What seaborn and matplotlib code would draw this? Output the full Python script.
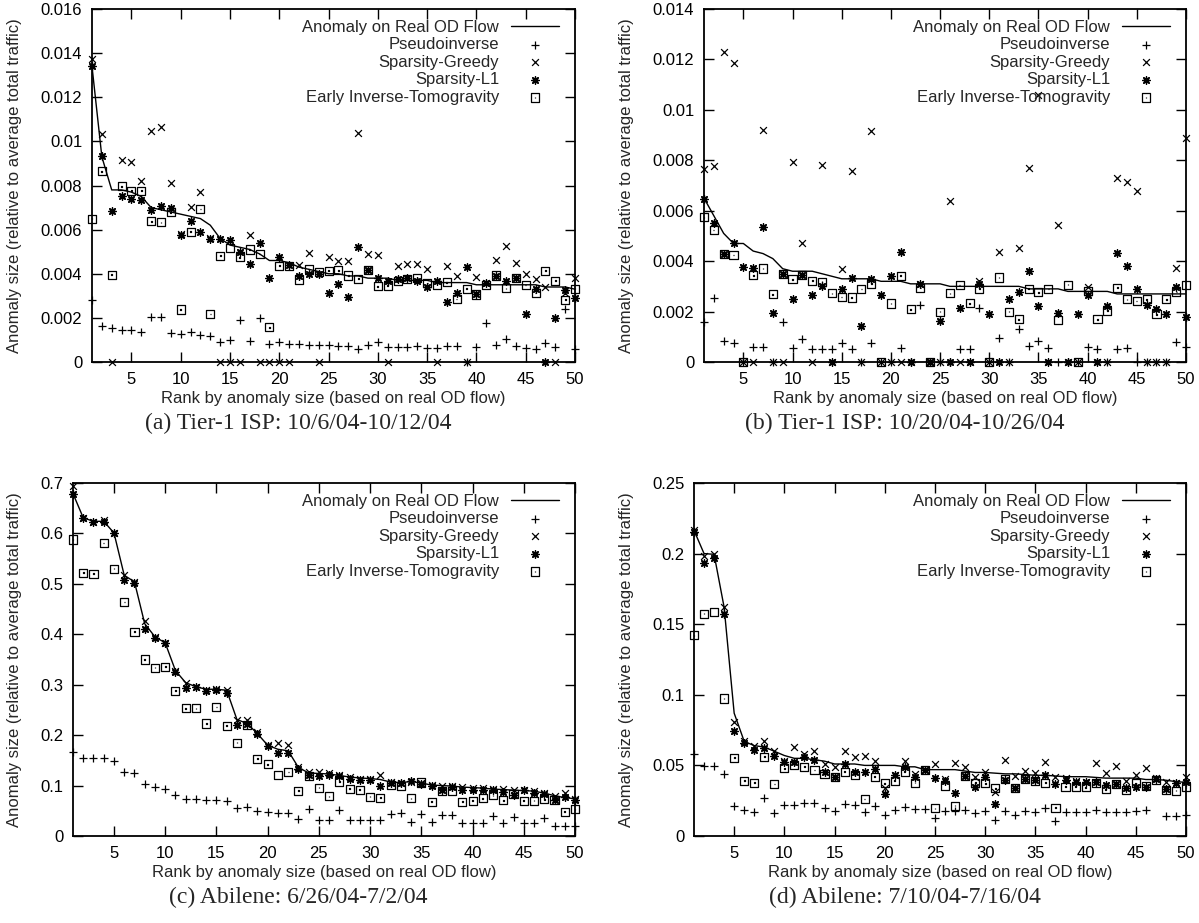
import numpy as np
import matplotlib
matplotlib.use("Agg")
import matplotlib.pyplot as plt
from matplotlib.path import Path
from matplotlib.ticker import FuncFormatter
import seaborn as sns

rank = np.arange(1, 51)

# ---- (a) Tier-1 ISP: 10/6/04-10/12/04 ----
a_real = [0.0134, 0.0093, 0.0078, 0.0078, 0.0077, 0.0075, 0.0070, 0.0069, 0.0068, 0.0067,
          0.0066, 0.0065, 0.0062, 0.0056, 0.0053, 0.0052, 0.0051, 0.0049, 0.0046, 0.0046,
          0.0045, 0.0043, 0.0042, 0.0041, 0.0040, 0.0040, 0.0039, 0.0039, 0.0038, 0.0038,
          0.0038, 0.0037, 0.0037, 0.0037, 0.0037, 0.0036, 0.0036, 0.0036, 0.0036, 0.0035,
          0.0035, 0.0035, 0.0035, 0.0035, 0.0035, 0.0035, 0.0034, 0.0034, 0.0034, 0.0033]
a_pseudo = [0.00283, 0.00162, 0.00155, 0.00147, 0.00144, 0.00135, 0.00203, 0.00205, 0.00132, 0.00129,
            0.00135, 0.00122, 0.00117, 0.00090, 0.00099, 0.00192, 0.00097, 0.00200, 0.00082, 0.00090,
            0.00082, 0.00082, 0.00075, 0.00075, 0.00075, 0.00072, 0.00072, 0.00061, 0.00079, 0.00090,
            0.00069, 0.00069, 0.00069, 0.00072, 0.00063, 0.00063, 0.00072, 0.00072, 0.0, 0.00067,
            0.00177, 0.00075, 0.00105, 0.00072, 0.00063, 0.00057, 0.00087, 0.00067, 0.00238, 0.00060]
a_greedy = [0.01373, 0.01032, 0.0, 0.00917, 0.00905, 0.00822, 0.01048, 0.01063, 0.00811, 0.0058,
            0.00701, 0.00769, 0.0056, 0.0, 0.0, 0.0, 0.00577, 0.0, 0.0, 0.0,
            0.0, 0.00438, 0.00494, 0.0, 0.00475, 0.0046, 0.0046, 0.0104, 0.00491, 0.00484,
            0.0, 0.00434, 0.00446, 0.00446, 0.00422, 0.0, 0.00434, 0.00392, 0.0, 0.00384,
            0.0036, 0.00461, 0.00525, 0.00449, 0.0040, 0.00374, 0.0034, 0.0, 0.00313, 0.00381]
a_l1 = [0.0134, 0.00935, 0.00683, 0.00751, 0.0074, 0.00733, 0.0069, 0.00709, 0.00698, 0.00577,
        0.00638, 0.0059, 0.00558, 0.00558, 0.00552, 0.0050, 0.00442, 0.0054, 0.00381, 0.00475,
        0.0044, 0.0039, 0.0040, 0.0040, 0.00313, 0.00355, 0.00295, 0.00522, 0.00416, 0.0038,
        0.00369, 0.00377, 0.00381, 0.00366, 0.0034, 0.00366, 0.00271, 0.00313, 0.0043, 0.00306,
        0.00358, 0.00392, 0.00369, 0.00381, 0.00218, 0.00332, 0.0, 0.0020, 0.00328, 0.00288]
a_tomo = [0.0065, 0.00864, 0.00395, 0.00796, 0.00777, 0.00777, 0.00638, 0.00633, 0.00679, 0.00238,
          0.00591, 0.00694, 0.00218, 0.00482, 0.00517, 0.00474, 0.0051, 0.0049, 0.00158, 0.00437,
          0.00434, 0.00374, 0.00422, 0.00407, 0.00414, 0.00416, 0.00392, 0.00377, 0.00416, 0.00343,
          0.00346, 0.00366, 0.00377, 0.00381, 0.00358, 0.00349, 0.00361, 0.00286, 0.00332, 0.00306,
          0.00351, 0.00392, 0.00334, 0.0038, 0.00349, 0.00313, 0.00414, 0.00369, 0.00283, 0.00332]

# ---- (b) Tier-1 ISP: 10/20/04-10/26/04 ----
b_real = [0.0065, 0.0058, 0.0051, 0.0047, 0.0047, 0.0044, 0.0043, 0.0041, 0.0037, 0.0036,
          0.0036, 0.0036, 0.0035, 0.0034, 0.0033, 0.0033, 0.0033, 0.0033, 0.0032, 0.0032,
          0.0032, 0.0031, 0.0031, 0.0031, 0.0031, 0.0030, 0.0030, 0.0030, 0.0030, 0.0030,
          0.0030, 0.0030, 0.0030, 0.0029, 0.0029, 0.0029, 0.0029, 0.0028, 0.0028, 0.0028,
          0.0028, 0.0028, 0.0027, 0.0027, 0.0027, 0.0027, 0.0027, 0.0027, 0.0027, 0.0027]
b_pseudo = [0.0016, 0.00253, 0.00082, 0.00077, 0.0, 0.0006, 0.00061, 0.0, 0.0016, 0.00054,
            0.0009, 0.0005, 0.0005, 0.0005, 0.00074, 0.0005, 0.0, 0.00074, 0.0, 0.0,
            0.00057, 0.0, 0.00225, 0.0, 0.0, 0.0, 0.0005, 0.00053, 0.00216, 0.0,
            0.00097, 0.0, 0.0013, 0.00064, 0.00083, 0.00057, 0.0, 0.0, 0.0, 0.0006,
            0.00053, 0.0, 0.0005, 0.00057, 0.0, 0.0, 0.0, 0.0, 0.0008, 0.0006]
b_greedy = [0.00766, 0.00779, 0.01229, 0.01187, 0.0, 0.0, 0.0092, 0.0, 0.0, 0.00792,
            0.00472, 0.0, 0.00781, 0.0, 0.00368, 0.00756, 0.0, 0.00915, 0.0, 0.0,
            0.0, 0.0, 0.0031, 0.0, 0.0, 0.00637, 0.0, 0.0, 0.0032, 0.0,
            0.00437, 0.0, 0.00454, 0.00768, 0.0106, 0.0, 0.00544, 0.0, 0.0, 0.00298,
            0.0, 0.0, 0.0073, 0.00713, 0.00677, 0.0, 0.0, 0.0, 0.00371, 0.00887]
b_l1 = [0.00646, 0.00551, 0.0043, 0.00472, 0.00375, 0.00371, 0.00534, 0.00196, 0.00348, 0.00249,
        0.00344, 0.00266, 0.00302, 0.0, 0.00289, 0.00335, 0.00143, 0.00328, 0.00266, 0.00342,
        0.00437, 0.0, 0.00309, 0.0, 0.00163, 0.0, 0.00213, 0.0, 0.00311, 0.00189,
        0.0, 0.00249, 0.00279, 0.00362, 0.00223, 0.0, 0.00196, 0.0, 0.00189, 0.00266,
        0.0, 0.00223, 0.00432, 0.00382, 0.00289, 0.00225, 0.00209, 0.00189, 0.00299, 0.00179]
b_tomo = [0.00574, 0.00523, 0.0043, 0.00424, 0.0, 0.00344, 0.00371, 0.00269, 0.0035, 0.00328,
          0.00344, 0.00322, 0.00318, 0.00273, 0.00258, 0.00256, 0.00289, 0.00311, 0.0, 0.00232,
          0.00342, 0.00209, 0.00294, 0.0, 0.0020, 0.00273, 0.00305, 0.00233, 0.00291, 0.0,
          0.00335, 0.0020, 0.0017, 0.00291, 0.00276, 0.00289, 0.00167, 0.00306, 0.0, 0.00282,
          0.0017, 0.00203, 0.00295, 0.00249, 0.00242, 0.00249, 0.00189, 0.00249, 0.00278, 0.00305]

# ---- (c) Abilene: 6/26/04-7/2/04 ----
c_real = [0.679, 0.631, 0.624, 0.624, 0.601, 0.517, 0.504, 0.421, 0.395, 0.383,
          0.328, 0.304, 0.296, 0.291, 0.291, 0.289, 0.231, 0.223, 0.203, 0.180,
          0.172, 0.169, 0.136, 0.125, 0.124, 0.123, 0.120, 0.117, 0.115, 0.114,
          0.112, 0.107, 0.106, 0.108, 0.105, 0.101, 0.100, 0.099, 0.097, 0.096,
          0.095, 0.093, 0.092, 0.091, 0.090, 0.089, 0.085, 0.080, 0.076, 0.074]
c_pseudo = [0.167, 0.155, 0.154, 0.154, 0.149, 0.126, 0.124, 0.104, 0.098, 0.094,
            0.081, 0.073, 0.073, 0.071, 0.071, 0.070, 0.055, 0.057, 0.050, 0.047,
            0.045, 0.045, 0.034, 0.054, 0.032, 0.032, 0.052, 0.032, 0.032, 0.032,
            0.032, 0.043, 0.046, 0.028, 0.044, 0.028, 0.042, 0.042, 0.025, 0.025,
            0.025, 0.040, 0.025, 0.038, 0.025, 0.025, 0.036, 0.020, 0.020, 0.020]
c_greedy = [0.694, 0.631, 0.622, 0.627, 0.601, 0.517, 0.504, 0.426, 0.395, 0.383,
            0.328, 0.304, 0.296, 0.289, 0.291, 0.289, 0.231, 0.231, 0.207, 0.180,
            0.185, 0.180, 0.136, 0.126, 0.127, 0.124, 0.120, 0.117, 0.114, 0.114,
            0.121, 0.107, 0.106, 0.108, 0.105, 0.101, 0.100, 0.099, 0.097, 0.096,
            0.095, 0.093, 0.093, 0.091, 0.091, 0.089, 0.085, 0.080, 0.085, 0.074]
c_l1 = [0.679, 0.631, 0.622, 0.622, 0.601, 0.507, 0.502, 0.411, 0.392, 0.383,
        0.326, 0.293, 0.295, 0.287, 0.289, 0.283, 0.221, 0.223, 0.202, 0.179,
        0.165, 0.165, 0.133, 0.121, 0.119, 0.121, 0.119, 0.114, 0.111, 0.112,
        0.099, 0.106, 0.106, 0.109, 0.104, 0.099, 0.092, 0.098, 0.092, 0.092,
        0.092, 0.091, 0.088, 0.081, 0.091, 0.086, 0.083, 0.071, 0.078, 0.071]
c_tomo = [0.588, 0.522, 0.520, 0.581, 0.530, 0.464, 0.405, 0.350, 0.334, 0.336,
          0.288, 0.253, 0.253, 0.223, 0.256, 0.219, 0.185, 0.220, 0.153, 0.142,
          0.121, 0.127, 0.090, 0.119, 0.096, 0.079, 0.108, 0.094, 0.092, 0.078,
          0.076, 0.101, 0.099, 0.075, 0.106, 0.068, 0.090, 0.090, 0.068, 0.070,
          0.075, 0.081, 0.071, 0.083, 0.070, 0.070, 0.073, 0.071, 0.048, 0.053]

# ---- (d) Abilene: 7/10/04-7/16/04 ----
d_real = [0.2165, 0.200, 0.1995, 0.162, 0.087, 0.067, 0.064, 0.063, 0.060, 0.057,
          0.055, 0.055, 0.054, 0.053, 0.051, 0.051, 0.051, 0.050, 0.050, 0.050,
          0.050, 0.049, 0.049, 0.047, 0.047, 0.047, 0.047, 0.046, 0.045, 0.045,
          0.0445, 0.044, 0.044, 0.0435, 0.043, 0.043, 0.0425, 0.042, 0.042, 0.042,
          0.0415, 0.041, 0.041, 0.041, 0.041, 0.040, 0.040, 0.0395, 0.0385, 0.038]
d_pseudo = [0.0578, 0.0495, 0.0495, 0.0436, 0.0212, 0.0184, 0.0172, 0.0267, 0.0165, 0.0219,
            0.0219, 0.0231, 0.0231, 0.0196, 0.0179, 0.0226, 0.0219, 0.0172, 0.0215, 0.0149,
            0.0184, 0.0208, 0.0189, 0.019, 0.0125, 0.0179, 0.0179, 0.0184, 0.0165, 0.0179,
            0.0113, 0.0179, 0.0149, 0.0179, 0.0172, 0.0196, 0.0106, 0.0172, 0.0172, 0.0172,
            0.0184, 0.0172, 0.0172, 0.0172, 0.0179, 0.0184, np.nan, 0.0142, 0.0142, 0.0149]
d_greedy = [0.217, 0.198, 0.1995, 0.162, 0.081, 0.067, 0.064, 0.067, 0.060, 0.053,
            0.063, 0.058, 0.060, 0.051, 0.049, 0.060, 0.056, 0.057, 0.053, 0.034,
            0.043, 0.053, 0.044, 0.047, 0.051, 0.0401, 0.0514, 0.049, 0.042, 0.0455,
            0.031, 0.054, 0.0425, 0.046, 0.0443, 0.0526, 0.0415, 0.0408, 0.0392, 0.0384,
            0.0514, 0.0448, 0.0495, 0.0392, 0.0432, 0.0479, 0.0408, 0.038, 0.0377, 0.042]
d_l1 = [0.2153, 0.193, 0.197, 0.157, 0.0743, 0.066, 0.061, 0.062, 0.057, 0.0525,
        0.0526, 0.0561, 0.0538, 0.0455, 0.042, 0.0509, 0.045, 0.0455, 0.0472, 0.030,
        0.0432, 0.049, 0.042, 0.0467, 0.0408, 0.0392, 0.0307, 0.0425, 0.0344, 0.042,
        0.0226, 0.0396, 0.0337, 0.0401, 0.0396, 0.0432, 0.0368, 0.0396, 0.0384, 0.0384,
        0.0384, 0.036, 0.0366, 0.0337, 0.0349, 0.0349, 0.0401, 0.033, 0.0373, 0.038]
d_tomo = [0.1422, 0.1575, 0.1587, 0.0974, 0.0554, 0.0392, 0.0377, 0.0561, 0.0368, 0.0479,
          0.0502, 0.049, 0.0467, 0.0439, 0.0415, 0.0455, 0.0432, 0.0262, 0.042, 0.0373,
          0.0392, 0.0455, 0.0377, 0.0467, 0.0196, 0.0354, 0.0215, 0.0425, 0.0377, 0.0373,
          0.0337, 0.0401, 0.0337, 0.0401, 0.0392, 0.0377, 0.0201, 0.0349, 0.0349, 0.0344,
          0.0377, 0.033, 0.0366, 0.0325, 0.0373, 0.0354, 0.0396, 0.0325, 0.032, 0.0344]

labels = ["Anomaly on Real OD Flow", "Pseudoinverse", "Sparsity-Greedy",
          "Sparsity-L1", "Early Inverse-Tomogravity"]
captions = ["(a) Tier-1 ISP: 10/6/04-10/12/04", "(b) Tier-1 ISP: 10/20/04-10/26/04",
            "(c) Abilene: 6/26/04-7/2/04", "(d) Abilene: 7/10/04-7/16/04"]
x_ticks = [5, 10, 15, 20, 25, 30, 35, 40, 45, 50]

sns.set_theme(style="ticks")
plt.rcParams["font.family"] = ["Liberation Sans", "DejaVu Sans"]
plt.rcParams["axes.linewidth"] = 1.3
plt.rcParams["axes.edgecolor"] = "black"

# gnuplot-style open square with a dot in the middle
sq_verts = [(-1, -1), (1, -1), (1, 1), (-1, 1), (-1, -1),
            (-0.09, -0.09), (0.09, -0.09), (0.09, 0.09), (-0.09, 0.09), (-0.09, -0.09)]
sq_codes = [Path.MOVETO, Path.LINETO, Path.LINETO, Path.LINETO, Path.CLOSEPOLY] * 2
square_dot = Path(sq_verts, sq_codes)
asterisk = (8, 2, 0)

W, H = 1199, 923
fig = plt.figure(figsize=(W / 100, H / 100), dpi=100)


def rect(left, right, top, bottom):
    return [left / W, 1 - bottom / H, (right - left) / W, (bottom - top) / H]


panels = [
    dict(box=rect(92, 575, 9, 362), series=(a_real, a_pseudo, a_greedy, a_l1, a_tomo),
         ymax=0.016, ystep=0.002, ylab_x=22, cap_xy=(298, 423)),
    dict(box=rect(704, 1186, 9, 362), series=(b_real, b_pseudo, b_greedy, b_l1, b_tomo),
         ymax=0.014, ystep=0.002, ylab_x=634, cap_xy=(905, 423)),
    dict(box=rect(73, 575, 483, 836), series=(c_real, c_pseudo, c_greedy, c_l1, c_tomo),
         ymax=0.7, ystep=0.1, ylab_x=22, cap_xy=(298, 897)),
    dict(box=rect(694, 1186, 483, 836), series=(d_real, d_pseudo, d_greedy, d_l1, d_tomo),
         ymax=0.25, ystep=0.05, ylab_x=634, cap_xy=(905, 897)),
]

for p, caption in zip(panels, captions):
    ax = fig.add_axes(p["box"])
    real, pseudo, greedy, l1, tomo = p["series"]
    width_px = p["box"][2] * W

    sns.lineplot(x=rank, y=real, ax=ax, color="black", linewidth=1.0, label=labels[0])
    sns.scatterplot(x=rank, y=pseudo, ax=ax, marker="+", color="black", s=36,
                    linewidth=0.9, label=labels[1], clip_on=False, zorder=3)
    sns.scatterplot(x=rank, y=greedy, ax=ax, marker="x", color="black", s=24,
                    linewidth=0.9, label=labels[2], clip_on=False, zorder=3)
    sns.scatterplot(x=rank, y=l1, ax=ax, marker=asterisk, color="black", s=28,
                    linewidth=1.0, label=labels[3], clip_on=False, zorder=3)
    sns.scatterplot(x=rank, y=tomo, ax=ax, marker=square_dot, facecolor="none",
                    edgecolor="black", s=34, linewidth=0.9, label=labels[4],
                    clip_on=False, zorder=3)

    ax.set_xlim(1, 50)
    ax.set_ylim(0, p["ymax"])
    ax.set_xticks(x_ticks)
    ax.set_yticks(np.arange(0, p["ymax"] + p["ystep"] / 2, p["ystep"]))
    ax.yaxis.set_major_formatter(FuncFormatter(lambda v, pos: f"{v:g}"))
    ax.tick_params(direction="in", top=True, right=True, length=7, width=1.0,
                   pad=7, labelsize=12, colors="black")
    for s in ax.spines.values():
        s.set_visible(True)
        s.set_color("black")

    ax.set_xlabel("Rank by anomaly size (based on real OD flow)", fontsize=12, labelpad=3)
    ax.set_ylabel("Anomaly size (relative to average total traffic)", fontsize=12)
    ax.yaxis.set_label_coords((p["ylab_x"] / W - p["box"][0]) / p["box"][2], 0.5)

    leg = ax.legend(loc="upper right", bbox_to_anchor=(1.0 - 5.0 / width_px, 1.0),
                    frameon=False, markerfirst=False, fontsize=12,
                    handlelength=2.9, handletextpad=0.7, labelspacing=0.15,
                    borderaxespad=0.35, borderpad=0.3)
    for col in leg._legend_handle_box.get_children():
        col.align = "right"

    cx, cy = p["cap_xy"]
    fig.text(cx / W, 1 - cy / H, caption, ha="center", va="center",
             fontsize=17, family=["Liberation Serif", "DejaVu Serif"])

fig.savefig("out.png", dpi=100)
